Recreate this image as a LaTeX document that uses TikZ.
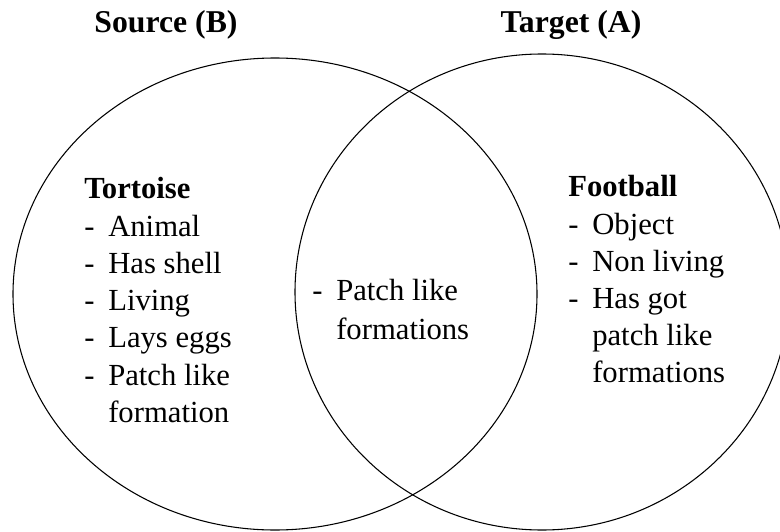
\documentclass[tikz,border=0pt]{standalone}
\usepackage{fontspec}
\setmainfont{Liberation Serif}
\newfontfamily\labelfont{Liberation Serif}
\begin{document}
\begin{tikzpicture}[x=0.75pt, y=-0.75pt,
  outline/.style={draw=black, line width=0.8pt},
  title/.style={font=\labelfont\fontsize{23.8}{28}\selectfont\bfseries, anchor=base, inner sep=0pt},
  head/.style={font=\labelfont\fontsize{23}{28}\selectfont\bfseries, anchor=base west, inner sep=0pt},
  bullet/.style={font=\labelfont\fontsize{23}{28}\selectfont, anchor=base west, inner sep=0pt},
  entry/.style={font=\labelfont\fontsize{23}{28}\selectfont, anchor=base west, inner sep=0pt}]
  \useasboundingbox (0,0) rectangle (780,531);
  \fill[white] (0,0) rectangle (780,531);

  % the two overlapping sets
  \begin{scope}
    \clip (0,0) rectangle (780,531);
    \draw[outline] (275,294) ellipse [x radius=262, y radius=236];
    \draw[outline] (542,292) ellipse [x radius=247, y radius=238];
  \end{scope}

  % set titles
  \node[title] (src) at (166,33) {Source (B)};
  \node[title] (tgt) at (571,33) {Target (A)};

  % source set
  \node[head] (tort) at (84,198) {Tortoise};
  \node[bullet] (d1) at (84,236) {-};  \node[entry] (t1) at (108,236) {Animal};
  \node[bullet] (d2) at (84,273) {-};  \node[entry] (t2) at (108,273) {Has shell};
  \node[bullet] (d3) at (84,310) {-};  \node[entry] (t3) at (108,310) {Living};
  \node[bullet] (d4) at (84,347) {-};  \node[entry] (t4) at (108,347) {Lays eggs};
  \node[bullet] (d5) at (84,385) {-};  \node[entry] (t5) at (108,385) {Patch like};
  \node[entry] (t6) at (108,422) {formation};

  % shared attribute
  \node[bullet] (dm) at (312,300) {-};  \node[entry] (m1) at (336,300) {Patch like};
  \node[entry] (m2) at (336,339) {formations};

  % target set
  \node[head] (foot) at (568,196) {Football};
  \node[bullet] (e1) at (568,234) {-};  \node[entry] (f1) at (592,234) {Object};
  \node[bullet] (e2) at (568,271) {-};  \node[entry] (f2) at (592,271) {Non living};
  \node[bullet] (e3) at (568,308) {-};  \node[entry] (f3) at (592,308) {Has got};
  \node[entry] (f4) at (592,345) {patch like};
  \node[entry] (f5) at (592,382) {formations};
\end{tikzpicture}
\end{document}
